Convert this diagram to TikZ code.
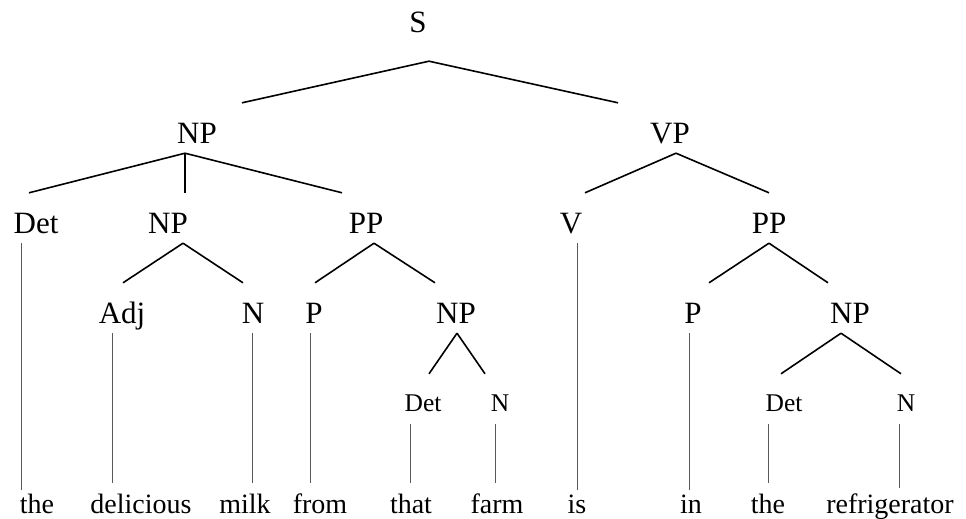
\documentclass[tikz,border=0pt]{standalone}
\usepackage{fontspec}
\setmainfont{Liberation Serif}

\tikzset{
  cat/.style={inner sep=0pt,anchor=base,text height=40pt,text depth=10pt,
    font=\fontsize{31}{31}\selectfont},
  smallcat/.style={cat,text height=37pt,text depth=13pt,
    font=\fontsize{25.5}{25.5}\selectfont},
  word/.style={inner sep=0pt,anchor=base,text height=30pt,text depth=0pt,
    font=\fontsize{28}{28}\selectfont},
  branch/.style={line width=1.6pt},
  leaf/.style={line width=1pt,black!65}
}

\begin{document}
\begin{tikzpicture}[x=1pt,y=-1pt]
  \useasboundingbox (0,0) rectangle (966,519);

  % categories
  \node[cat,text depth=28pt] (s) at (418,33) {S};
  \node[cat] (np1) at (197,143) {NP};
  \node[cat] (vp)  at (670,143) {VP};
  \node[cat] (det1) at (36,233)  {Det};
  \node[cat] (np2)  at (168,233) {NP};
  \node[cat] (pp1)  at (366,233) {PP};
  \node[cat] (v)    at (571,233) {V};
  \node[cat] (pp2)  at (769,233) {PP};
  \node[cat] (adj) at (122,323) {Adj};
  \node[cat] (n1)  at (253,323) {N};
  \node[cat] (p1)  at (314,323) {P};
  \node[cat] (np3) at (456,323) {NP};
  \node[cat] (p2)  at (693,323) {P};
  \node[cat] (np4) at (850,323) {NP};
  \node[smallcat] (det2) at (423,411) {Det};
  \node[smallcat] (n2)   at (500,411) {N};
  \node[smallcat] (det3) at (784,411) {Det};
  \node[smallcat] (n3)   at (906,411) {N};

  % words
  \node[word,text height=23pt] (w1) at (37,513)  {the};
  \node[word] (w2) at (141,513) {delicious};
  \node[word] (w3) at (245,513) {milk};
  \node[word] (w4) at (320,513) {from};
  \node[word] (w5) at (411,513) {that};
  \node[word] (w6) at (497,513) {farm};
  \node[word,text height=23pt] (w7) at (577,513) {is};
  \node[word,text height=23pt] (w8) at (691,513) {in};
  \node[word] (w9) at (768,513) {the};
  \node[word,text height=25pt] (w10) at (890,513) {refrigerator};

  % branches
  \path[branch]
    ([xshift=11]s.south) edge ([xshift=45]np1.north)
                         edge ([xshift=-52]vp.north)
    ([xshift=-12]np1.south) edge ([xshift=-7]det1.north)
                            edge ([xshift=17]np2.north)
                            edge ([xshift=-24]pp1.north)
    ([xshift=6]vp.south) edge ([xshift=14]v.north)
                         edge (pp2.north)
    ([xshift=15]np2.south) edge ([xshift=1]adj.north)
                           edge ([xshift=-10]n1.north)
    ([xshift=8]pp1.south) edge ([xshift=1]p1.north)
                          edge ([xshift=-21]np3.north)
    (pp2.south) edge ([xshift=16]p2.north)
                edge ([xshift=-22]np4.north)
    ([xshift=1]np3.south) edge ([xshift=6]det2.north)
                          edge ([xshift=-15]n2.north)
    ([xshift=-9]np4.south) edge ([xshift=-3]det3.north)
                           edge ([xshift=-5]n3.north);

  % leaves
  \draw[leaf] ([xshift=-15]det1.south) -- ([xshift=-15]det1.south |- w1.north);
  \draw[leaf] ([xshift=-10]adj.south) -- ([xshift=-10]adj.south |- w2.north);
  \draw[leaf] ([xshift=-1]n1.south) -- ([xshift=-1]n1.south |- w3.north);
  \draw[leaf] ([xshift=-4]p1.south) -- ([xshift=-4]p1.south |- w4.north);
  \draw[leaf] ([xshift=-13]det2.south) -- ([xshift=-13]det2.south |- w5.north);
  \draw[leaf] ([xshift=-5]n2.south) -- ([xshift=-5]n2.south |- w6.north);
  \draw[leaf] ([xshift=6]v.south) -- ([xshift=6]v.south |- w7.north);
  \draw[leaf] ([xshift=-4]p2.south) -- ([xshift=-4]p2.south |- w8.north);
  \draw[leaf] ([xshift=-16]det3.south) -- ([xshift=-16]det3.south |- w9.north);
  \draw[leaf] ([xshift=-7]n3.south) -- ([xshift=-7]n3.south |- w10.north);
\end{tikzpicture}
\end{document}
